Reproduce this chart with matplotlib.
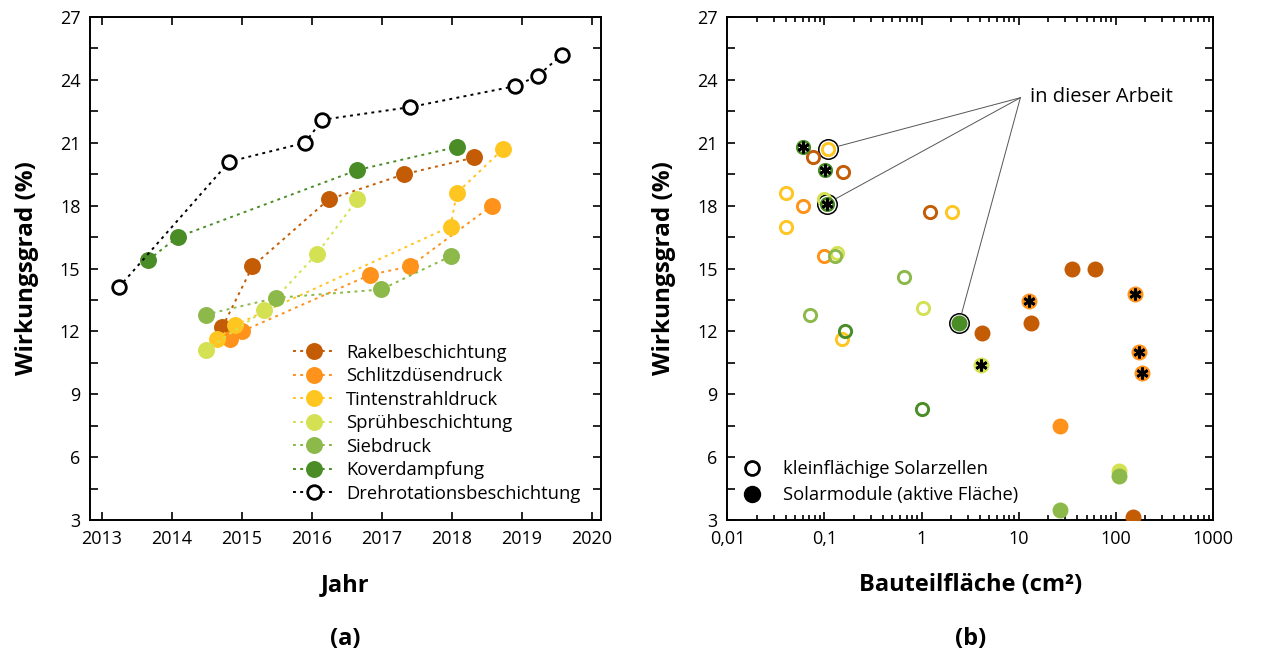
import numpy as np
import matplotlib
matplotlib.use("Agg")
import matplotlib.pyplot as plt
from matplotlib.lines import Line2D
from matplotlib.ticker import FixedLocator, FuncFormatter, LogLocator, NullFormatter

plt.rcParams['font.family'] = ['Open Sans', 'DejaVu Sans']

# Farben der Verfahren
methods = ["Rakelbeschichtung", "Schlitzdüsendruck", "Tintenstrahldruck",
           "Sprühbeschichtung", "Siebdruck", "Koverdampfung"]
colors = ["#C35C05", "#FF921A", "#FFC520", "#D3E152", "#8DB94B", "#4A8D27"]

# (a) Wirkungsgrad über Jahr
rakel_jahr = [2014.72, 2015.15, 2016.24, 2017.32, 2018.32]
rakel_pce = [12.2, 15.1, 18.3, 19.5, 20.3]
schlitz_jahr = [2014.83, 2015.00, 2016.83, 2017.40, 2018.57]
schlitz_pce = [11.65, 12.0, 14.7, 15.1, 18.0]
tinte_jahr = [2014.65, 2014.90, 2017.98, 2018.07, 2018.73]
tinte_pce = [11.65, 12.3, 17.0, 18.6, 20.7]
spray_jahr = [2014.48, 2015.32, 2016.07, 2016.65]
spray_pce = [11.1, 13.0, 15.7, 18.3]
sieb_jahr = [2014.48, 2015.49, 2016.99, 2017.99]
sieb_pce = [12.8, 13.6, 14.0, 15.6]
kover_jahr = [2013.66, 2014.08, 2016.65, 2018.07]
kover_pce = [15.4, 16.5, 19.7, 20.8]
spin_jahr = [2013.24, 2014.82, 2015.90, 2016.15, 2017.40, 2018.90, 2019.23, 2019.57]
spin_pce = [14.1, 20.1, 21.0, 22.1, 22.7, 23.7, 24.2, 25.2]

# (b) Wirkungsgrad über Bauteilfläche: Zellen (offen) und Module (gefüllt)
rakel_zelle_a = [0.077, 0.154, 1.23]
rakel_zelle_pce = [20.3, 19.6, 17.7]
rakel_modul_a = [4.17, 13.3, 35.5, 61.2, 150]
rakel_modul_pce = [11.9, 12.4, 15.0, 15.0, 3.15]
schlitz_zelle_a = [0.0606, 0.099]
schlitz_zelle_pce = [18.0, 15.6]
schlitz_modul_a = [12.9, 158, 175, 185, 26.7]
schlitz_modul_pce = [13.45, 13.8, 11.0, 10.0, 7.5]
tinte_zelle_a = [0.108, 0.0403, 0.0403, 2.06, 0.153]
tinte_zelle_pce = [20.7, 18.6, 17.0, 17.7, 11.65]
spray_zelle_a = [0.100, 0.134, 1.03]
spray_zelle_pce = [18.3, 15.75, 13.1]
spray_modul_a = [4.13, 109]
spray_modul_pce = [10.4, 5.35]
sieb_zelle_a = [0.128, 0.66, 0.071]
sieb_zelle_pce = [15.6, 14.6, 12.8]
sieb_modul_a = [26.7, 109]
sieb_modul_pce = [3.5, 5.12]
kover_zelle_a = [0.0606, 0.101, 0.106, 0.163, 1.02]
kover_zelle_pce = [20.8, 19.7, 18.1, 12.0, 8.3]
kover_modul_a = [2.43]
kover_modul_pce = [12.4]

stern_a = [0.0606, 0.101, 0.106, 4.13, 12.9, 158, 175, 185]
stern_pce = [20.8, 19.7, 18.1, 10.4, 13.45, 13.8, 11.0, 10.0]
arbeit_a = [0.108, 0.106, 2.43]
arbeit_pce = [20.7, 18.1, 12.4]

fig = plt.figure(figsize=(12.72, 6.6), dpi=100)
ax1 = fig.add_axes([0.0708, 0.2121, 0.4017, 0.7621])
ax2 = fig.add_axes([0.5718, 0.2121, 0.3818, 0.7621])

ls = (0, (1.5, 2.2))
serien = [(rakel_jahr, rakel_pce), (schlitz_jahr, schlitz_pce), (tinte_jahr, tinte_pce),
          (spray_jahr, spray_pce), (sieb_jahr, sieb_pce), (kover_jahr, kover_pce)]
for (x, y), c, name in zip(serien, colors, methods):
    ax1.plot(x, y, linestyle=ls, lw=1.4, color=c, marker='o', ms=12.2,
             mfc=c, mec=c, mew=0, label=name)
ax1.plot(spin_jahr, spin_pce, linestyle=ls, lw=1.4, color='black', marker='o', ms=9.8,
         mfc='white', mec='black', mew=2, label="Drehrotationsbeschichtung")

ax1.set_xlim(2012.83, 2020.13)
ax1.xaxis.set_major_locator(FixedLocator(range(2013, 2021)))
ax1.set_xlabel("Jahr", fontsize=17, fontweight='bold', labelpad=18)
ax1.legend(loc='lower right', bbox_to_anchor=(1 - 3 / 511, 0.0), frameon=False,
           fontsize=13.2, handlelength=2.3, handletextpad=0.6, labelspacing=0.3,
           borderaxespad=0.55)

zellen = [(rakel_zelle_a, rakel_zelle_pce), (schlitz_zelle_a, schlitz_zelle_pce),
          (tinte_zelle_a, tinte_zelle_pce), (spray_zelle_a, spray_zelle_pce),
          (sieb_zelle_a, sieb_zelle_pce), (kover_zelle_a, kover_zelle_pce)]
module = [(rakel_modul_a, rakel_modul_pce), (schlitz_modul_a, schlitz_modul_pce),
          ([], []), (spray_modul_a, spray_modul_pce),
          (sieb_modul_a, sieb_modul_pce), (kover_modul_a, kover_modul_pce)]

# schwarze Ringe um die eigenen Ergebnisse
ax2.plot(arbeit_a, arbeit_pce, 'o', ms=14, mfc='white', mec='black', mew=1.1, zorder=2)
for (x, y), c in zip(zellen, colors):
    ax2.plot(x, y, 'o', ms=8.8, mfc='none', mec=c, mew=2.1, zorder=3)
for (x, y), c in zip(module, colors):
    ax2.plot(x, y, 'o', ms=11.5, mfc=c, mec=c, mew=0, zorder=3)
ax2.plot(stern_a, stern_pce, linestyle='none', marker=(6, 2, 0), ms=8.5, mew=2.0,
         color='black', zorder=4)

ax2.text(13.1, 23.2, "in dieser Arbeit", fontsize=14.5, va='center', ha='left')
for a, p in zip(arbeit_a, arbeit_pce):
    ax2.annotate("", xy=(a, p), xytext=(10.4, 23.15),
                 arrowprops=dict(arrowstyle='-', color='#555555', lw=0.7,
                                 shrinkA=0, shrinkB=7.5))

ax2.set_xscale('log')
ax2.set_xlim(0.01, 1000)
ax2.xaxis.set_major_locator(LogLocator(base=10, numticks=10))
ax2.xaxis.set_minor_locator(LogLocator(base=10, subs=np.arange(2, 10), numticks=10))
ax2.xaxis.set_minor_formatter(NullFormatter())
ax2.xaxis.set_major_formatter(FuncFormatter(lambda v, _: f"{v:g}".replace('.', ',')))
ax2.set_xlabel("Bauteilfläche (cm²)", fontsize=17, fontweight='bold', labelpad=18)

leg_handles = [Line2D([], [], linestyle='none', marker='o', ms=10, mfc='white', mec='black', mew=2),
               Line2D([], [], linestyle='none', marker='o', ms=11.5, mfc='black', mec='black')]
ax2.legend(leg_handles, ["kleinflächige Solarzellen", "Solarmodule (aktive Fläche)"],
           loc='lower left', bbox_to_anchor=(0.0, 0.0), frameon=False, fontsize=13.2,
           handlelength=1.0, handletextpad=1.2, labelspacing=0.45, borderaxespad=0.45)

for ax, tag in [(ax1, "(a)"), (ax2, "(b)")]:
    ax.set_ylim(3, 27)
    ax.yaxis.set_major_locator(FixedLocator(np.arange(3, 28, 3)))
    ax.yaxis.set_minor_locator(FixedLocator(np.arange(4.5, 27, 3)))
    ax.set_ylabel("Wirkungsgrad (%)", fontsize=17.5, fontweight='bold', labelpad=15)
    ax.tick_params(which='both', direction='in', top=True, right=True, width=1.2,
                   labelsize=13, pad=7)
    ax.tick_params(which='major', length=6)
    ax.tick_params(axis='y', which='minor', length=6)
    ax.tick_params(axis='x', which='minor', length=3.5)
    for s in ax.spines.values():
        s.set_linewidth(1.4)
    ax.text(0.5, -0.237, tag, transform=ax.transAxes, ha='center', va='center',
            fontsize=17, fontweight='bold')

fig.savefig("out.png", dpi=100)
